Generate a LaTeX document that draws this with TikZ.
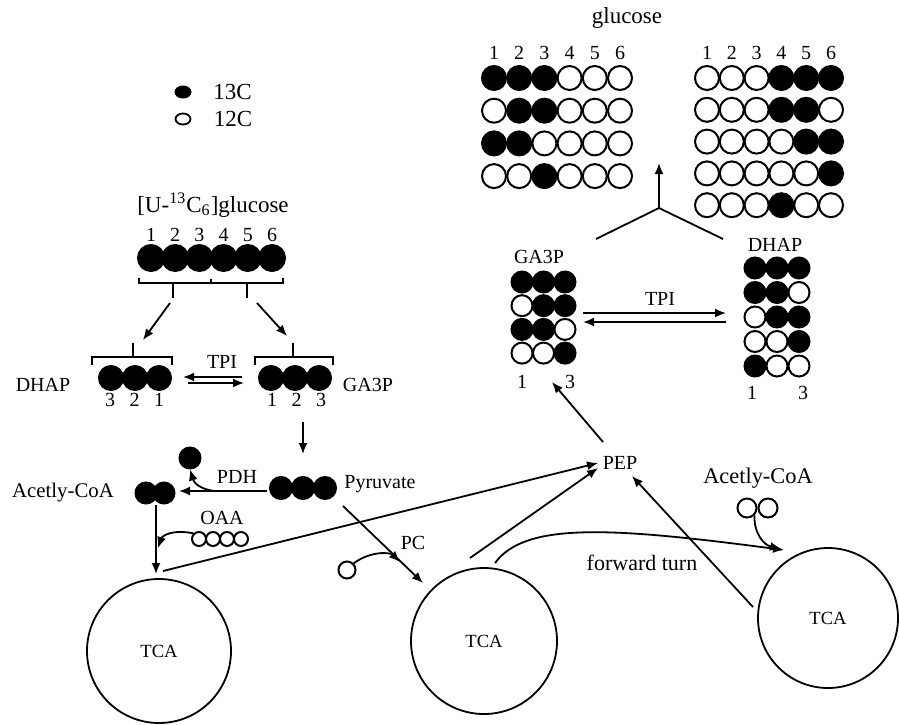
\documentclass[tikz,border=0pt]{standalone}
\usepackage{fontspec}
\setmainfont{Liberation Serif}
\usetikzlibrary{arrows.meta,positioning,shapes.geometric}
\tikzset{
  txt/.style={font=\fontsize{10}{12}\selectfont,inner sep=1pt},
  txtbig/.style={font=\fontsize{11.5}{14}\selectfont,inner sep=1pt},
  atom/.style={circle,draw=black,line width=1pt,inner sep=0pt,minimum size=#1},
  c13/.style={atom=#1,fill=black},
  c12/.style={atom=#1,fill=white},
  key13/.style={ellipse,fill=black,inner sep=0pt,minimum width=8.5pt,minimum height=6.5pt},
  key12/.style={ellipse,draw=black,line width=0.9pt,fill=white,inner sep=0pt,minimum width=7.5pt,minimum height=5.5pt},
  tca/.style={circle,draw=black,line width=0.9pt,inner sep=0pt,minimum size=#1,font=\fontsize{9.3}{11}\selectfont},
  arr/.style={-{Latex[length=5.5pt,width=4.5pt]},line width=0.9pt},
  link/.style={line width=0.9pt},
  brk/.style={line width=0.8pt}
}

\begin{document}
\begin{tikzpicture}[x=0.5pt,y=-0.5pt]
  \useasboundingbox (0,0) rectangle (899,724);

  % legend
  \node[key13] (k13) at (183,92) {};
  \node[key12] (k12) at (183,119) {};
  \node[txtbig,right=9.5pt of k13] (k13t) {13C};
  \node[txtbig,right=10pt of k12] (k12t) {12C};

  % glucose from gluconeogenesis
  \node[txtbig] (glctop) at (627,18) {glucose};
  \foreach \i in {1,...,6} {
    \node[txt] (nl\i) at (494+25.2*\i-25.2,53) {\i};
    \node[txt] (nr\i) at (707+24.8*\i-24.8,53) {\i};
  }
  \foreach \row [count=\r] in {{1,1,1,0,0,0},{0,1,1,0,0,0},{1,1,0,0,0,0},{0,0,1,0,0,0}}
    \foreach \v [count=\c] in \row
      \node[atom=12pt,fill=black!\v00] (gl-\r-\c) at (494+25.2*\c-25.2,78+32.7*\r-32.7) {};
  \foreach \row [count=\r] in {{0,0,0,1,1,1},{0,0,0,1,1,0},{0,0,0,0,1,1},{0,0,0,0,0,1},{0,0,0,1,0,0}}
    \foreach \v [count=\c] in \row
      \node[atom=12pt,fill=black!\v00] (gr-\r-\c) at (707+24.8*\c-24.8,78+31.8*\r-31.8) {};

  % merge of the trioses
  \coordinate (yc) at (659,208);
  \coordinate (yl) at (596,239);
  \coordinate (yr) at (723,239);
  \coordinate (ytop) at (659,163);
  \draw[link] (yl) -- (yc) -- (yr);
  \draw[arr] (yc) -- (ytop);

  % labelled trioses (right)
  \node[txt] (ga3pR) at (539,257) {GA3P};
  \foreach \row [count=\r] in {{1,1,1},{0,1,1},{1,1,0},{0,0,1}}
    \foreach \v [count=\c] in \row
      \node[atom=10.5pt,fill=black!\v00] (ga-\r-\c) at (522+21.5*\c-21.5,282+23.7*\r-23.7) {};
  \node[txt] (gaN1) at (522,382) {1};
  \node[txt] (gaN3) at (570,382) {3};

  \node[txt] (dhapR) at (775,245) {DHAP};
  \foreach \row [count=\r] in {{1,1,1},{1,1,0},{0,1,1},{0,0,1},{1,0,0}}
    \foreach \v [count=\c] in \row
      \node[atom=10.5pt,fill=black!\v00] (dh-\r-\c) at (755+22*\c-22,268+24.5*\r-24.5) {};
  \node[txt] (dhN1) at (752,393) {1};
  \node[txt] (dhN3) at (803,393) {3};

  \node[txt] (tpiR) at (660,299) {TPI};
  \coordinate (tpiRa) at (583,313);
  \coordinate (tpiRb) at (726,313);
  \coordinate (tpiRc) at (726,322);
  \coordinate (tpiRd) at (583,322);
  \draw[arr] (tpiRa) -- (tpiRb);
  \draw[arr] (tpiRc) -- (tpiRd);

  % [U-13C6]glucose
  \node[txtbig] (uglc) at (213,205) {[U-\textsuperscript{13}C\textsubscript{6}]glucose};
  \foreach \i in {1,...,6} {
    \node[txt] (un\i) at (151+24.2*\i-24.2,235) {\i};
    \node[c13=13pt] (u\i) at (151+24.2*\i-24.2,258) {};
  }
  \draw[brk] (139,278) -- (139,283) -- (283,283) -- (283,278)
    (211,283) -- (211,279) (173,283) -- (173,298) (247,283) -- (247,298);
  \coordinate (uL) at (170,303);
  \coordinate (uR) at (257,303);
  \coordinate (dhapIn) at (143,340);
  \coordinate (ga3pIn) at (287,336);
  \draw[arr] (uL) -- (dhapIn);
  \draw[arr] (uR) -- (ga3pIn);

  % trioses (left)
  \node[txt] (dhapL) at (43,385) {DHAP};
  \node[txt] (ga3pL) at (368,385) {GA3P};
  \foreach \i/\n in {1/3,2/2,3/1} {
    \node[c13=12pt] (dl\i) at (111+24*\i-24,378) {};
    \node[txt] (dlN\i) at (110+24.5*\i-24.5,400) {\n};
  }
  \foreach \i in {1,2,3} {
    \node[c13=12pt] (gl\i) at (271+24*\i-24,378) {};
    \node[txt] (glN\i) at (272+24.5*\i-24.5,400) {\i};
  }
  \draw[brk] (92,365) -- (92,357) -- (172,357) -- (172,365) (133,357) -- (133,343);
  \draw[brk] (255,365) -- (255,357) -- (333,357) -- (333,365) (293,357) -- (293,343);
  \node[txt] (tpiL) at (222,362) {TPI};
  \coordinate (tpiLa) at (242,377);
  \coordinate (tpiLb) at (183,377);
  \coordinate (tpiLc) at (188,383);
  \coordinate (tpiLd) at (244,383);
  \draw[arr] (tpiLa) -- (tpiLb);
  \draw[arr] (tpiLc) -- (tpiLd);

  % pyruvate and acetyl-CoA
  \foreach \i in {1,2,3}
    \node[c13=11pt] (py\i) at (281+22*\i-22,488) {};
  \node[txt,anchor=west] (pyr) at (342,484) {Pyruvate};
  \coordinate (gaOut) at (303,422);
  \coordinate (pyIn) at (303,454);
  \draw[arr] (gaOut) -- (pyIn);

  \node[c13=10.5pt] (ac1) at (146,493) {};
  \node[c13=10.5pt] (ac2) at (164,493) {};
  \node[txt,font=\fontsize{10.4}{12}\selectfont] (acL) at (63,493) {Acetly-CoA};
  \node[c13=10.5pt] (co2) at (190,458) {};
  \node[txt] (pdh) at (237,477) {PDH};
  \coordinate (pdhA) at (267,491);
  \coordinate (pdhB) at (179,491);
  \coordinate (pdhC) at (214,491);
  \draw[arr] (pdhA) -- (pdhB);
  \draw[arr] (pdhC) .. controls (200,489) and (194,483) .. (co2.south);

  % OAA into the first cycle
  \node[txt] (oaa) at (222,518) {OAA};
  \foreach \i in {1,...,4}
    \node[c12=7pt] (oa\i) at (199+14*\i-14,539) {};
  \node[tca=72pt] (tca1) at (159,651) {TCA};
  \coordinate (acOut) at (156,505);
  \coordinate (tca1In) at (156,574);
  \coordinate (oaJoin) at (158,548);
  \draw[arr] (acOut) -- (tca1In);
  \draw[arr] (oa1.north west) .. controls (172,529) and (162,536) .. (oaJoin);

  % pyruvate carboxylase
  \node[tca=73pt] (tca2) at (484,641) {TCA};
  \node[txt] (pc) at (413,543) {PC};
  \node[c12=8.5pt] (co2b) at (347,570) {};
  \coordinate (pcA) at (343,506);
  \coordinate (pcB) at (423,583);
  \coordinate (pcJoin) at (400,562);
  \draw[arr] (pcA) -- (pcB);
  \draw[arr] (co2b.north east) .. controls (370,551) and (390,552) .. (pcJoin);

  % PEP
  \node[txt] (pep) at (620,463) {PEP};
  \coordinate (tca1Out) at (163,571);
  \coordinate (tca2Out) at (470,558);
  \coordinate (tca3Out) at (753,607);
  \coordinate (pepA) at (598,463);
  \coordinate (pepB) at (598,468);
  \coordinate (pepC) at (632,476);
  \coordinate (pepOut) at (603,442);
  \coordinate (gaIn) at (552,382);
  \draw[arr] (tca1Out) -- (pepA);
  \draw[arr] (tca2Out) -- (pepB);
  \draw[arr] (tca3Out) -- (pepC);
  \draw[arr] (pepOut) -- (gaIn);

  % forward turn into the third cycle
  \node[tca=70pt] (tca3) at (828,618) {TCA};
  \node[txt,font=\fontsize{11}{13}\selectfont] (ftl) at (642,563) {forward turn};
  \coordinate (ftA) at (495,563);
  \coordinate (ftB) at (784,550);
  \draw[arr] (ftA) .. controls (525,522) and (610,527) .. (ftB);

  \node[txt,font=\fontsize{11.2}{13}\selectfont] (acR) at (758,478) {Acetly-CoA};
  \node[c12=9.5pt] (ar1) at (747,508) {};
  \node[c12=9.5pt] (ar2) at (768,508) {};
  \coordinate (acRJoin) at (781,549);
  \draw[arr] (ar1.south east) .. controls (754,534) and (764,545) .. (acRJoin);
\end{tikzpicture}
\end{document}
